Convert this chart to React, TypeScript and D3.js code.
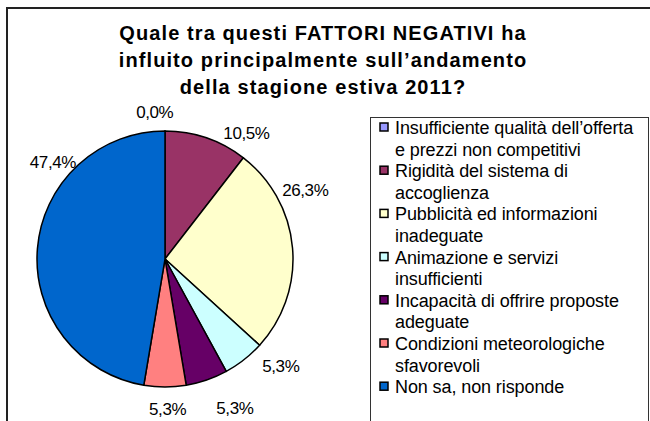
import { useEffect, useRef } from 'react';
import * as d3 from 'd3';

const titleLines = [
  'Quale tra questi FATTORI NEGATIVI ha',
  'influito principalmente sull\u2019andamento',
  'della stagione estiva 2011?',
];

const categories = [
  ['Insufficiente qualità dell\u2019offerta', 'e prezzi non competitivi'],
  ['Rigidità del sistema di', 'accoglienza'],
  ['Pubblicità ed informazioni', 'inadeguate'],
  ['Animazione e servizi', 'insufficienti'],
  ['Incapacità di offrire proposte', 'adeguate'],
  ['Condizioni meteorologiche', 'sfavorevoli'],
  ['Non sa, non risponde'],
];

const values = [0.0, 10.5, 26.3, 5.3, 5.3, 5.3, 47.4];
const valueLabels = ['0,0%', '10,5%', '26,3%', '5,3%', '5,3%', '5,3%', '47,4%'];

const colors = ['#9999FF', '#993366', '#FFFFCC', '#CCFFFF', '#660066', '#FF8080', '#0066CC'];

const W = 650;
const H = 421;

const App = () => {
  const ref = useRef<SVGSVGElement>(null);

  useEffect(() => {
    const svg = d3.select(ref.current);
    svg.selectAll('*').remove();

    // outer frame
    svg
      .append('rect')
      .attr('x', 7)
      .attr('y', 8)
      .attr('width', W + 20)
      .attr('height', H + 20)
      .attr('fill', 'white')
      .attr('stroke', '#222')
      .attr('stroke-width', 2);

    // title
    svg
      .append('g')
      .selectAll('text')
      .data(titleLines)
      .join('text')
      .attr('x', 323)
      .attr('y', (d, i) => 40 + i * 27)
      .attr('text-anchor', 'middle')
      .attr('font-family', 'Liberation Sans, Arial, sans-serif')
      .attr('font-weight', 'bold')
      .attr('font-size', 20)
      .attr('letter-spacing', 1.1)
      .text((d) => d);

    // pie
    const cx = 165,
      cy = 259,
      r = 128;
    const pie = d3.pie<number>().sort(null).value((d) => d);
    const arcs = pie(values);
    const arc = d3.arc<d3.PieArcDatum<number>>().innerRadius(0).outerRadius(r);

    const g = svg.append('g').attr('transform', `translate(${cx},${cy})`);
    g.selectAll('path')
      .data(arcs)
      .join('path')
      .attr('d', arc)
      .attr('fill', (d, i) => colors[i])
      .attr('stroke', '#000')
      .attr('stroke-width', 1.5)
      .attr('stroke-linejoin', 'round');

    // data labels, excel-ish placement around the pie
    const nudge = [-4, 14, -21, -9, -6, -1, 36];
    const dist = [147, 150, 156, 158, 165, 151, 148];
    g.selectAll('text')
      .data(arcs)
      .join('text')
      .attr('x', (d, i) => {
        const a = (d.startAngle + d.endAngle) / 2 + (nudge[i] * Math.PI) / 180;
        return Math.sin(a) * dist[i];
      })
      .attr('y', (d, i) => {
        const a = (d.startAngle + d.endAngle) / 2 + (nudge[i] * Math.PI) / 180;
        return -Math.cos(a) * dist[i];
      })
      .attr('text-anchor', 'middle')
      .attr('dominant-baseline', 'central')
      .attr('font-family', 'Liberation Sans, Arial, sans-serif')
      .attr('font-size', 17)
      .attr('letter-spacing', -0.4)
      .text((d, i) => valueLabels[i]);

    // legend
    const lg = svg.append('g');
    lg.append('rect')
      .attr('x', 370.5)
      .attr('y', 117.5)
      .attr('width', 278)
      .attr('height', H)
      .attr('fill', 'white')
      .attr('stroke', '#333')
      .attr('stroke-width', 1);

    const lineH = 21.6;
    let line = 0;
    categories.forEach((lines, i) => {
      const y0 = 128 + line * lineH;
      lg.append('rect')
        .attr('x', 380)
        .attr('y', y0 - 5)
        .attr('width', 8)
        .attr('height', 8)
        .attr('fill', colors[i])
        .attr('stroke', '#000')
        .attr('stroke-width', 1.5);
      lines.forEach((t, j) => {
        lg.append('text')
          .attr('x', 395)
          .attr('y', y0 + j * lineH)
          .attr('dominant-baseline', 'central')
          .attr('font-family', 'Liberation Sans, Arial, sans-serif')
          .attr('font-size', 18)
          .attr('letter-spacing', -0.1)
          .text(t);
      });
      line += lines.length;
    });
  }, []);

  return (
    <svg
      ref={ref}
      width={W}
      height={H}
      style={{ position: 'absolute', left: 0, top: 0, background: 'white' }}
    />
  );
};

export default App;
